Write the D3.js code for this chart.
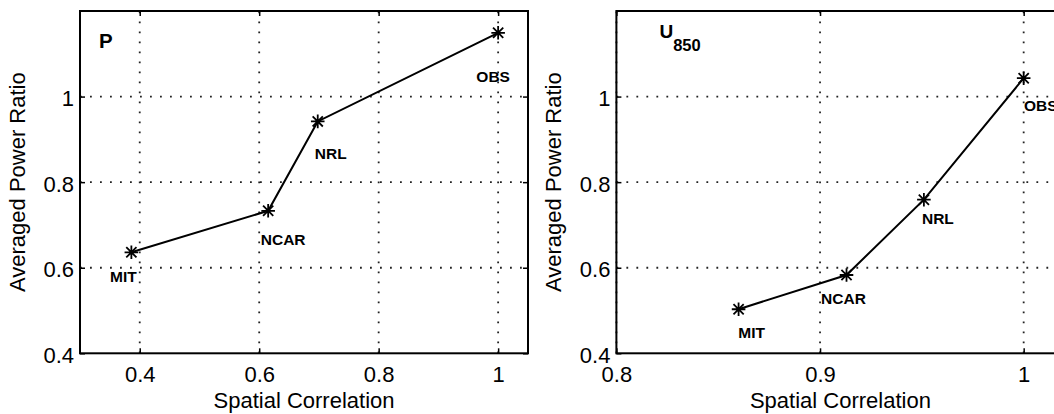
<!DOCTYPE html>
<html>
<head>
<meta charset="utf-8">
<script src="https://cdn.jsdelivr.net/npm/d3@7"></script>
<style>
  body { margin: 0; background: #fff; }
  text { font-family: "Liberation Sans", Arial, Helvetica, sans-serif; fill: #000; }
</style>
</head>
<body>
<div id="chart"></div>
<script>
const models = ["MIT", "NCAR", "NRL", "OBS"];
const pCorrelation = [0.386, 0.615, 0.698, 1.0];
const pPowerRatio = [0.636, 0.733, 0.942, 1.149];
const uCorrelation = [0.860, 0.913, 0.951, 1.0];
const uPowerRatio = [0.503, 0.583, 0.759, 1.043];
const pXTicks = [0.4, 0.6, 0.8, 1];
const uXTicks = [0.8, 0.9, 1];
const yTicks = [0.4, 0.6, 0.8, 1];
const pXRange = [0.3, 1.05];
const uXRange = [0.8, 1.02];
const yRange = [0.4, 1.2];

let width = 1054, height = 414;
let fontFamily = '"Liberation Sans", Arial, Helvetica, sans-serif';

let svg = d3.select('#chart').append('svg')
    .attr('width', width)
    .attr('height', height)
    .style('background', '#fff');

// label nudges in px: [dx of label centre, dy of baseline] from the point
let pNudge = [[-8, 30], [15, 34], [13, 38], [-5, 49]];
let uNudge = [[13, 29], [-3, 29], [14, 24], [17, 33]];

function asterisk(r) {
    let d = r * 0.75;
    return 'M' + (-r) + ',0L' + r + ',0M0,' + (-r) + 'L0,' + r +
        'M' + (-d) + ',' + (-d) + 'L' + d + ',' + d +
        'M' + (-d) + ',' + d + 'L' + d + ',' + (-d);
}

function drawPanel(o) {
    let x = d3.scaleLinear().domain(o.xRange).range([o.left, o.right]);
    let y = d3.scaleLinear().domain(yRange).range([353.3, 11]);
    let g = svg.append('g');

    // dotted grid
    g.selectAll('.vgrid').data(o.xTicks).enter().append('line')
        .attr('x1', d => x(d)).attr('x2', d => x(d))
        .attr('y1', y(yRange[0])).attr('y2', y(yRange[1]))
        .attr('stroke', '#222').attr('stroke-width', 1.8)
        .attr('stroke-dasharray', '1.8,8.2');
    g.selectAll('.hgrid').data(yTicks.slice(1)).enter().append('line')
        .attr('x1', o.left).attr('x2', o.right)
        .attr('y1', d => y(d)).attr('y2', d => y(d))
        .attr('stroke', '#222').attr('stroke-width', 1.8)
        .attr('stroke-dasharray', '1.8,8.2');

    // axes with inward ticks
    let xAxis = g.append('g')
        .attr('transform', 'translate(0,' + y(yRange[0]) + ')')
        .call(d3.axisBottom(x).tickValues(o.xTicks).tickSizeInner(-5).tickSizeOuter(0).tickFormat(d => String(d)));
    xAxis.selectAll('text').attr('y', 29).attr('dy', null);

    let yAxis = g.append('g')
        .attr('transform', 'translate(' + o.left + ',0)')
        .call(d3.axisLeft(y).tickValues(yTicks).tickSizeInner(-5).tickSizeOuter(0).tickFormat(d => String(d)));
    yAxis.selectAll('text').attr('x', -6).attr('dy', '0.42em');

    g.append('g')
        .attr('transform', 'translate(0,' + y(yRange[1]) + ')')
        .call(d3.axisTop(x).tickValues(o.xTicks).tickSizeInner(-5).tickSizeOuter(0).tickFormat(''));
    g.append('g')
        .attr('transform', 'translate(' + o.right + ',0)')
        .call(d3.axisRight(y).tickValues(yTicks).tickSizeInner(-5).tickSizeOuter(0).tickFormat(''));

    g.selectAll('.domain').remove();
    g.selectAll('.tick line').attr('stroke', '#000').attr('stroke-width', 1.5);
    g.selectAll('.tick text').attr('font-size', 22).attr('font-family', fontFamily).attr('fill', '#000');

    g.append('rect')
        .attr('x', o.left).attr('y', y(yRange[1]))
        .attr('width', o.right - o.left).attr('height', y(yRange[0]) - y(yRange[1]))
        .attr('fill', 'none').attr('stroke', '#000').attr('stroke-width', 2);

    // curve and markers
    let pts = models.map((m, i) => ({ name: m, cx: o.corr[i], cy: o.ratio[i], nudge: o.nudge[i] }));
    let line = d3.line().x(d => x(d.cx)).y(d => y(d.cy));
    g.append('path')
        .attr('d', line(pts))
        .attr('fill', 'none').attr('stroke', '#000').attr('stroke-width', 2);

    g.selectAll('.mark').data(pts).enter().append('path')
        .attr('transform', d => 'translate(' + x(d.cx) + ',' + y(d.cy) + ')')
        .attr('d', asterisk(6.8))
        .attr('stroke', '#000').attr('stroke-width', 1.8).attr('fill', 'none');

    g.selectAll('.lab').data(pts).enter().append('text')
        .attr('x', d => x(d.cx) + d.nudge[0])
        .attr('y', d => y(d.cy) + d.nudge[1])
        .attr('text-anchor', 'middle')
        .attr('font-size', 15.5).attr('font-weight', 'bold')
        .text(d => d.name);

    // axis titles
    g.append('text')
        .attr('x', (o.left + o.right) / 2).attr('y', 408)
        .attr('text-anchor', 'middle').attr('font-size', 22)
        .text('Spatial Correlation');
    g.append('text')
        .attr('transform', 'translate(' + (o.left - 55) + ',' + ((y(yRange[0]) + y(yRange[1])) / 2) + ') rotate(-90)')
        .attr('text-anchor', 'middle').attr('font-size', 22)
        .text('Averaged Power Ratio');

    // panel title
    let t = g.append('text')
        .attr('x', o.left + o.titleDx).attr('y', o.titleY)
        .attr('font-weight', 'bold').attr('font-size', o.titleSize)
        .text(o.title);
    if (o.sub) {
        t.append('tspan').attr('font-size', 16.5).attr('dy', 13).text(o.sub);
    }
}

drawPanel({ left: 80, right: 528, xRange: pXRange, xTicks: pXTicks,
    corr: pCorrelation, ratio: pPowerRatio, nudge: pNudge,
    title: 'P', titleDx: 19, titleY: 48.3, titleSize: 20.5 });

drawPanel({ left: 616.4, right: 1064.4, xRange: uXRange, xTicks: uXTicks,
    corr: uCorrelation, ratio: uPowerRatio, nudge: uNudge,
    title: 'U', sub: '850', titleDx: 43, titleY: 37.5, titleSize: 19 });
</script>
</body>
</html>
